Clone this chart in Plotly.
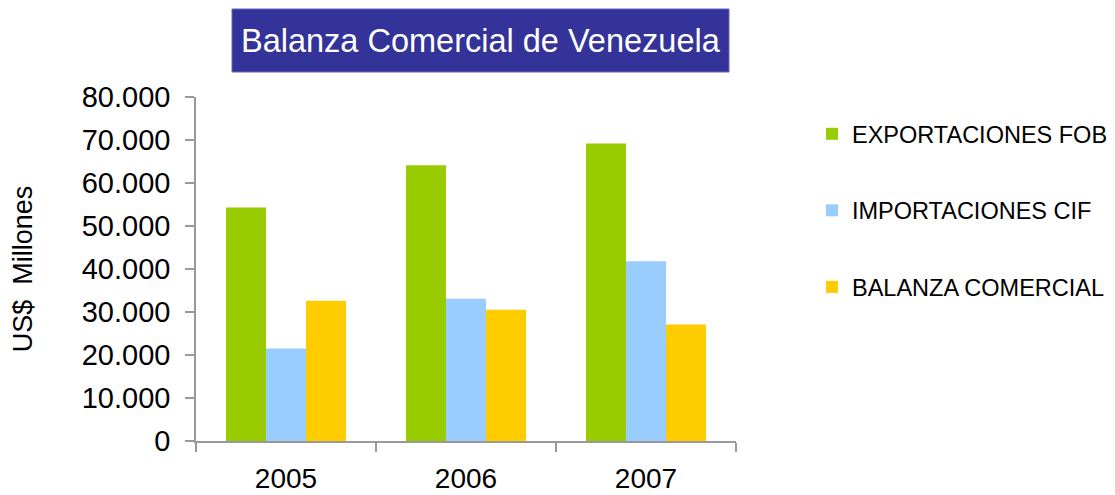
import plotly.graph_objects as go

years = ["2005", "2006", "2007"]
exportaciones = [54300, 64100, 69200]
importaciones = [21500, 33100, 41800]
balanza = [32600, 30500, 27100]

series_names = ["EXPORTACIONES FOB", "IMPORTACIONES CIF", "BALANZA COMERCIAL"]
series_values = [exportaciones, importaciones, balanza]
series_colors = ["#99CC00", "#99CCFF", "#FFCC00"]

title_text = "Balanza Comercial de Venezuela"
y_title = "US$  Millones"

fig = go.Figure()
for i, (name, vals, col) in enumerate(zip(series_names, series_values, series_colors)):
    fig.add_trace(go.Bar(
        x=years, y=vals, name=name, marker_color=col,
        marker_line_width=0, legendgroup=f"g{i}",
    ))

OFF = 8  # default page body margin
W, H = 1115 - OFF, 495 - OFF
# target plot area in page pixels: x 196..736, y 97..441
L, T = 196 - OFF, 97 - OFF
R = W - (736 - OFF)
B = H - (441 - OFF)
pw, ph = W - L - R, H - T - B

def px_x(p):
    return (p - OFF - L) / pw

def px_y(p):
    return (H - B - (p - OFF)) / ph

FONT = "Liberation Sans, Arial, sans-serif"

fig.add_shape(type="rect", xref="paper", yref="paper",
              x0=px_x(232), x1=px_x(729), y0=px_y(72), y1=px_y(9),
              fillcolor="#333399", line=dict(color="#6666bb", width=1), layer="above")
fig.add_annotation(text=title_text, xref="paper", yref="paper",
                   x=px_x(480.5), y=px_y(41), xanchor="center", yanchor="middle",
                   showarrow=False,
                   font=dict(family=FONT, size=32.5, color="white"))

fig.update_layout(
    width=W, height=H,
    margin=dict(l=L, r=R, t=T, b=B, pad=0, autoexpand=False),
    paper_bgcolor="white", plot_bgcolor="white",
    separators=",.",
    barmode="group", bargap=0.333, bargroupgap=0,
    font=dict(family=FONT, color="black"),
    showlegend=True,
    legend=dict(x=px_x(812), xanchor="left", y=px_y(112), yanchor="top",
                font=dict(size=23.5, family=FONT, color="black"),
                tracegroupgap=43, bgcolor="rgba(0,0,0,0)",
                itemsizing="constant"),
    xaxis=dict(showline=True, linecolor="#999999", linewidth=1.5,
               ticks="outside", ticklen=9, tickcolor="#999999", tickwidth=1.5,
               tickson="boundaries", showgrid=False, ticklabelstandoff=12,
               automargin=False,
               tickfont=dict(size=28, family=FONT, color="black")),
    yaxis=dict(range=[0, 80000], dtick=10000, tickformat=",d",
               showline=True, linecolor="#999999", linewidth=1.5,
               ticks="outside", ticklen=9, tickcolor="#999999", tickwidth=1.5,
               showgrid=False, zeroline=False, ticklabelstandoff=9,
               automargin=False,
               tickfont=dict(size=29, family=FONT, color="black"),
               title=dict(text=y_title, font=dict(size=27, family=FONT, color="black"), standoff=43)),
)

fig.write_html("out.html")
